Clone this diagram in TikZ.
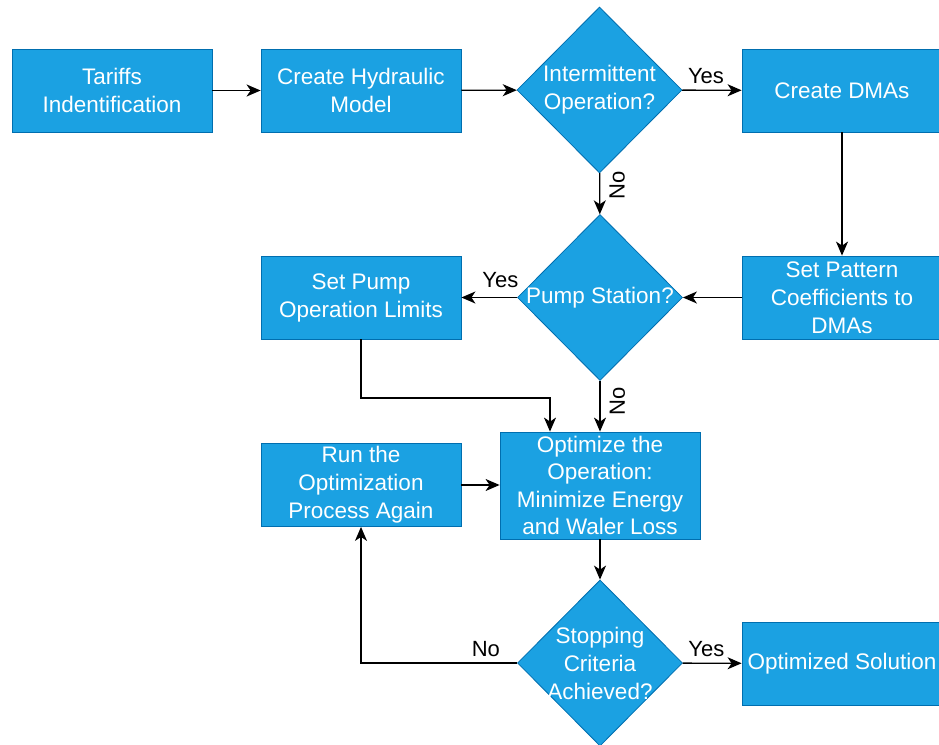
\documentclass[tikz,border=0pt]{standalone}
\usepackage{fontspec}
\setmainfont{Liberation Sans}
\usetikzlibrary{shapes.geometric,arrows.meta}
\definecolor{boxfill}{HTML}{1BA1E2}
\definecolor{boxline}{HTML}{006EAF}
\begin{document}
\begin{tikzpicture}[x=1pt,y=-1pt,
  box/.style={draw=boxline, fill=boxfill, line width=0.8pt, minimum width=200pt, minimum height=83pt, inner sep=0pt, text=white, font=\fontsize{22.5}{28}\selectfont, align=center},
  dia/.style={diamond, draw=boxline, fill=boxfill, line width=0.8pt, minimum width=165pt, minimum height=166pt, inner sep=0pt},
  dtext/.style={text=white, font=\fontsize{22.5}{28}\selectfont, align=center, inner sep=0pt},
  lbl/.style={font=\fontsize{22}{24}\selectfont, text=black, inner sep=6pt},
  vlbl/.style={lbl, rotate=90, anchor=north, inner xsep=0pt, inner ysep=9pt},
  arr/.style={line width=1.4pt, -{Stealth[length=14pt,width=12pt,inset=4pt]}}
]
\useasboundingbox (0,0) rectangle (939,744);

% nodes
\node[box] (t1) at (112,90.5) {Tariffs\\Indentification};
\node[box] (hyd) at (361,90.5) {Create Hydraulic\\Model};
\node[dia] (d1) at (599.5,90) {};
\node[dtext] (d1t) at (d1) {Intermittent\\Operation?};
\node[box] (dmas) at (842,90.5) {Create DMAs};

\node[box] (pump) at (361,297.5) {Set Pump\\Operation Limits};
\node[dia] (d2) at (600,297.5) {};
\node[dtext] (d2t) at (d2) {Pump Station?};
\node[box] (pat) at (842,297.5) {Set Pattern\\Coefficients to\\DMAs};

\node[box] (run) at (361,485) {Run the\\Optimization\\Process Again};
\node[box, minimum height=107pt, font=\fontsize{22.5}{27.3}\selectfont] (opt) at (600,485.5) {Optimize the\\Operation:\\Minimize Energy\\and Waler Loss};

\node[dia] (d3) at (600,663) {};
\node[dtext] (d3t) at (d3) {Stopping\\Criteria\\Achieved?};
\node[box] (sol) at (842,663.5) {Optimized Solution};

\coordinate (j1) at (550,398);

% connectors
\draw[arr] (t1) -- (hyd);
\draw[arr] (hyd) -- (d1);
\draw[arr] (d1) -- node[lbl, above, pos=0.4] {Yes} (dmas);
\draw[arr] (d1) -- node[vlbl, pos=0.3] {No} (d2);
\draw[arr] (dmas) -- (pat);
\draw[arr] (pat) -- (d2);
\draw[arr] (d2) -- node[lbl, above, pos=0.3, yshift=3pt] {Yes} (pump);
\draw[arr] (d2) -- node[vlbl, pos=0.4] {No} (opt);
\draw[arr] (pump.south) |- (j1) -- (j1 |- opt.north);
\draw[arr] (run.east) -- (run.east -| opt.west);
\draw[arr] (opt) -- (d3);
\draw[arr] (d3.west) -| node[lbl, above, pos=0.1] {No} (run.south);
\draw[arr] (d3) -- node[lbl, above, pos=0.4] {Yes} (sol);
\end{tikzpicture}
\end{document}
